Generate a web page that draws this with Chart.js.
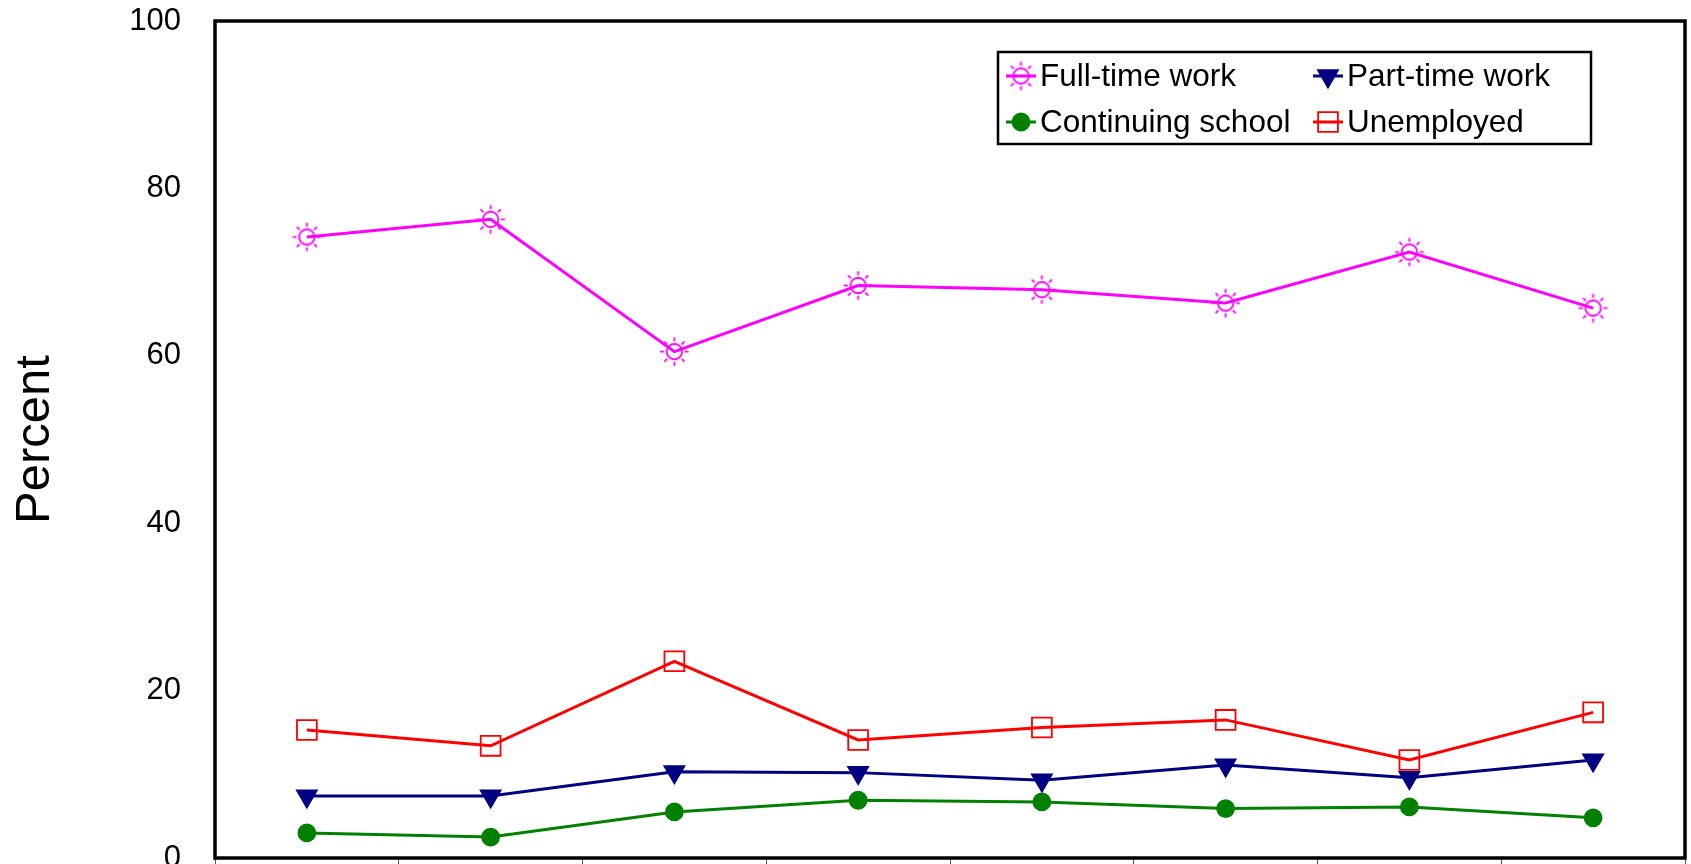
<!DOCTYPE html>
<html>
<head>
<meta charset="utf-8">
<script src="https://cdn.jsdelivr.net/npm/chart.js@4/dist/chart.umd.min.js"></script>
<style>
  html, body { margin: 0; padding: 0; background: #fff; overflow: hidden; }
  #wrap { width: 1691px; height: 864px; }
</style>
</head>
<body>
<div id="wrap"><canvas id="c" width="1691" height="864"></canvas></div>
<script>
// Survey waves along the horizontal axis
const categories = ['1', '2', '3', '4', '5', '6', '7', '8'];

// Percent of respondents in each status
const fullTimeWork     = [74.2, 76.3, 60.5, 68.4, 67.9, 66.3, 72.4, 65.7];
const partTimeWork     = [7.4, 7.4, 10.3, 10.2, 9.3, 11.1, 9.6, 11.7];
const continuingSchool = [3.0, 2.5, 5.5, 6.9, 6.7, 5.9, 6.1, 4.8];
const unemployed       = [15.3, 13.4, 23.5, 14.1, 15.6, 16.5, 11.7, 17.4];

// Vertical axis ticks
const yTicks = [0, 20, 40, 60, 80, 100];

const FONT = "'Liberation Sans', Arial, sans-serif";

// Where the framed plot area sits on the page
const PLOT_BOX = { left: 215, top: 21, right: 1685, bottom: 858 };

// Hollow "sun" marker: a ring with eight short rays
function makeSun(color, size) {
  const cv = document.createElement('canvas');
  cv.width = size; cv.height = size;
  const g = cv.getContext('2d');
  const c = size / 2;
  g.strokeStyle = color;
  g.lineWidth = 1.8;
  g.beginPath();
  g.arc(c, c, size * 0.25, 0, Math.PI * 2);
  g.stroke();
  for (let i = 0; i < 8; i++) {
    const a = i * Math.PI / 4;
    g.beginPath();
    g.moveTo(c + Math.cos(a) * size * 0.33, c + Math.sin(a) * size * 0.33);
    g.lineTo(c + Math.cos(a) * size * 0.46, c + Math.sin(a) * size * 0.46);
    g.stroke();
  }
  return cv;
}
const sun = makeSun('#FF00FF', 31);

const datasets = [
  { label: 'Full-time work', data: fullTimeWork, borderColor: '#FF00FF', backgroundColor: 'transparent',
    pointStyle: sun, pointRadius: 13 },
  { label: 'Part-time work', data: partTimeWork, borderColor: '#000080', backgroundColor: '#000080',
    pointStyle: 'triangle', pointRotation: 180, pointRadius: 11.5 },
  { label: 'Continuing school', data: continuingSchool, borderColor: '#008000', backgroundColor: '#008000',
    pointStyle: 'circle', pointRadius: 8.5 },
  { label: 'Unemployed', data: unemployed, borderColor: '#FF0000', backgroundColor: 'transparent',
    pointStyle: 'rect', pointRadius: 14 }
].map(d => Object.assign({
  borderWidth: 3,
  pointBorderWidth: 1.8,
  pointBorderColor: d.borderColor,
  pointBackgroundColor: d.backgroundColor,
  pointRotation: d.pointRotation || 0,
  tension: 0
}, d));

// Black frame round the plot area
const framePlugin = {
  id: 'frame',
  beforeDatasetsDraw(chart) {
    const { ctx, chartArea: a } = chart;
    ctx.save();
    ctx.strokeStyle = '#000';
    ctx.lineWidth = 3.5;
    ctx.strokeRect(a.left, a.top, a.right - a.left, a.bottom - a.top);
    ctx.restore();
  }
};

// Boxed two-column legend inside the plot
const boxLegendPlugin = {
  id: 'boxLegend',
  afterDraw(chart) {
    const { ctx } = chart;
    const box = { x: 998, y: 52, w: 593, h: 92 };
    ctx.save();
    ctx.fillStyle = '#fff';
    ctx.fillRect(box.x, box.y, box.w, box.h);
    ctx.strokeStyle = '#000';
    ctx.lineWidth = 2.5;
    ctx.strokeRect(box.x, box.y, box.w, box.h);

    const cols = [1006, 1313];
    const rows = [76, 122];
    chart.data.datasets.forEach((ds, i) => {
      const x0 = cols[i % 2];
      const y = rows[Math.floor(i / 2)];
      const x1 = x0 + 30;
      const cx = (x0 + x1) / 2;
      ctx.strokeStyle = ds.borderColor;
      ctx.lineWidth = 3;
      ctx.beginPath();
      ctx.moveTo(x0, y);
      ctx.lineTo(x1, y);
      ctx.stroke();
      ctx.lineWidth = ds.pointBorderWidth;
      ctx.fillStyle = ds.pointBackgroundColor;
      ctx.strokeStyle = ds.pointBorderColor;
      Chart.helpers.drawPoint(ctx, {
        pointStyle: ds.pointStyle,
        rotation: ds.pointRotation,
        radius: ds.pointRadius,
        borderWidth: ds.pointBorderWidth
      }, cx, y);
      ctx.fillStyle = '#000';
      ctx.font = '31.5px ' + FONT;
      ctx.textAlign = 'left';
      ctx.textBaseline = 'middle';
      ctx.fillText(ds.label, x1 + 4, y + 1);
    });
    ctx.restore();
  }
};

let pad = { top: 21, right: 6, left: 0, bottom: 0 };

const chart = new Chart(document.getElementById('c'), {
  type: 'line',
  data: { labels: categories, datasets },
  plugins: [framePlugin, boxLegendPlugin],
  options: {
    responsive: false,
    animation: false,
    layout: { autoPadding: false, padding: pad },
    plugins: { legend: { display: false }, tooltip: { enabled: false } },
    scales: {
      x: {
        type: 'category',
        offset: true,
        border: { display: false },
        grid: { display: true, offset: true, drawOnChartArea: false, drawTicks: true,
                tickLength: 8, color: '#555', lineWidth: 1 },
        ticks: { display: false },
        afterFit(scale) {
          scale.height = 6;
          scale.paddingLeft = 0;
          scale.paddingRight = 0;
        }
      },
      y: {
        min: 0,
        max: 100,
        border: { display: false },
        grid: { display: false, drawTicks: false },
        afterBuildTicks(scale) { scale.ticks = yTicks.map(v => ({ value: v })); },
        ticks: {
          padding: 34,
          color: '#000',
          font: { family: FONT, size: 31 }
        },
        title: {
          display: true,
          text: 'Percent',
          color: '#000',
          font: { family: FONT, size: 49, lineHeight: 1.2 },
          padding: { top: 6, bottom: 0 }
        },
        afterFit(scale) {
          scale.width = 215;
          // let the end labels overhang the plot edges
          scale.paddingTop = 0;
          scale.paddingBottom = 0;
        }
      }
    }
  }
});

// Nudge the layout padding until the plot area lands on PLOT_BOX
for (let k = 0; k < 4; k++) {
  const ca = chart.chartArea;
  const dTop = PLOT_BOX.top - ca.top;
  const dBottom = ca.bottom - PLOT_BOX.bottom;
  const dLeft = PLOT_BOX.left - ca.left;
  const dRight = ca.right - PLOT_BOX.right;
  if (Math.abs(dTop) + Math.abs(dBottom) + Math.abs(dLeft) + Math.abs(dRight) < 0.5) break;
  pad = {
    top: pad.top + dTop,
    bottom: pad.bottom + dBottom,
    left: pad.left + dLeft,
    right: pad.right + dRight
  };
  chart.options.layout.padding = pad;
  chart.update();
}
</script>
</body>
</html>
